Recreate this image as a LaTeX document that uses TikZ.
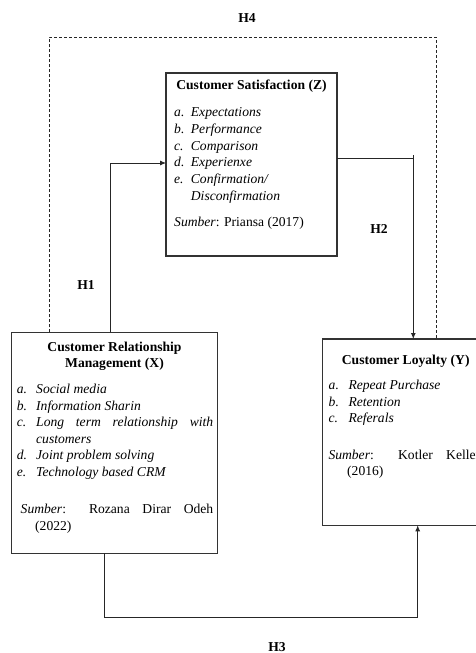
\documentclass[tikz,border=0pt]{standalone}
\usepackage{fontspec}
\setmainfont{Liberation Serif}
\usetikzlibrary{arrows.meta,calc}
\begin{document}
\begin{tikzpicture}[x=1pt,y=-1pt,
  box/.style={draw=black!80,line width=1.1pt,anchor=north west,inner sep=0pt,outer sep=0pt},
  conn/.style={line width=0.9pt,draw=black!85},
  arr/.style={-{Latex[length=6pt,width=5pt]}},
  hdash/.style={line width=0.8pt,dash pattern=on 3pt off 2pt},
  ttl/.style={font=\fontsize{13.6}{16}\selectfont\bfseries,inner sep=0pt,anchor=base},
  itm/.style={font=\fontsize{13.6}{16}\selectfont\itshape,inner sep=0pt,anchor=base west},
  txt/.style={font=\fontsize{13.6}{16}\selectfont,inner sep=0pt,anchor=base west},
  hl/.style={font=\fontsize{13.6}{16}\selectfont\bfseries,inner sep=0pt}]
\useasboundingbox (0,0) rectangle (476,653);
\clip (0,0) rectangle (476,653);
\fill[white] (0,0) rectangle (476,653);
% boxes
\node[box,minimum width=171pt,minimum height=183pt] (Z) at (166,73) {};
\node[box,minimum width=205.6pt,minimum height=221pt] (X) at (11.7,332.3) {};
\node[box,minimum width=170pt,minimum height=186.3pt] (Y) at (322.7,339) {};
% Z texts
\node[ttl] (zt) at (251.5,89.5) {Customer Satisfaction (Z)};
\node[itm] (za) at (174,116.5) {a.}; \node[itm] (za2) at (190.7,116.5) {Expectations};
\node[itm] (zb) at (174,133) {b.}; \node[itm] (zb2) at (190.7,133) {Performance};
\node[itm] (zc) at (174,150) {c.}; \node[itm] (zc2) at (190.7,150) {Comparison};
\node[itm] (zd) at (174,166.5) {d.}; \node[itm] (zd2) at (190.7,166.5) {Experienxe};
\node[itm] (ze) at (174,183) {e.}; \node[itm] (ze2) at (190.7,183) {Confirmation/};
\node[itm] (ze3) at (190.7,200) {Disconfirmation};
\node[txt] (zs) at (174,226) {\textit{Sumber}: Priansa (2017)};
% X texts
\node[ttl] (xt1) at (114.5,351) {Customer Relationship};
\node[ttl] (xt2) at (114.5,367.5) {Management (X)};
\node[itm] (xa) at (16.7,393.5) {a.}; \node[itm] (xa2) at (36,393.5) {Social media};
\node[itm] (xb) at (16.7,410) {b.}; \node[itm] (xb2) at (36,410) {Information Sharin};
\node[itm] (xc) at (16.7,426.5) {c.}; \node[itm] (xc2) at (36,426.5) {\makebox[177pt][s]{Long term relationship with}};
\node[itm] (xc3) at (36,443) {customers};
\node[itm] (xd) at (16.7,459.5) {d.}; \node[itm] (xd2) at (36,459.5) {Joint problem solving};
\node[itm] (xe) at (16.7,476) {e.}; \node[itm] (xe2) at (36,476) {Technology based CRM};
\node[txt] (xs) at (20.5,513) {\makebox[192.5pt][s]{\textit{Sumber}: Rozana Dirar Odeh}};
\node[txt] (xs2) at (35,530) {(2022)};
% Y texts
\node[ttl,anchor=base west] (yt) at (341.7,364.5) {Customer Loyalty (Y)};
\node[itm] (ya) at (328.5,389.3) {a.}; \node[itm] (ya2) at (348.3,389.3) {Repeat Purchase};
\node[itm] (yb) at (328.5,406) {b.}; \node[itm] (yb2) at (348.3,406) {Retention};
\node[itm] (yc) at (328.5,422.7) {c.}; \node[itm] (yc2) at (348.3,422.7) {Referals};
\node[txt] (ys) at (328.3,459) {\makebox[151.7pt][s]{\textit{Sumber}: Kotler Keller}};
\node[txt] (ys2) at (347,475.7) {(2016)};
% connectors
\coordinate (c1) at (110,163);
\draw[conn,arr] (X.north -| c1) |- (Z.west |- c1);
\coordinate (c2) at (413.3,158.3);
\draw[conn,arr] (Z.east |- c2) -| (Y.north -| c2);
\draw[conn] (c2) -- ++(0,-3.5);
\coordinate (c3) at (104,617);
\coordinate (c4) at (417.7,617);
\draw[conn,arr] (X.south -| c3) -- (c3) -- (c4) -- (Y.south -| c4);
\coordinate (d1) at (49.3,37.3);
\coordinate (d2) at (436.5,37.3);
\draw[conn,hdash] (X.north -| d1) -- (d1) -- (d2) -- (Y.north -| d2);
% labels
\node[hl] (h4) at (247,18) {H4};
\node[hl] (h1) at (86,285) {H1};
\node[hl] (h2) at (379,229) {H2};
\node[hl] (h3) at (277,647) {H3};
\end{tikzpicture}
\end{document}
